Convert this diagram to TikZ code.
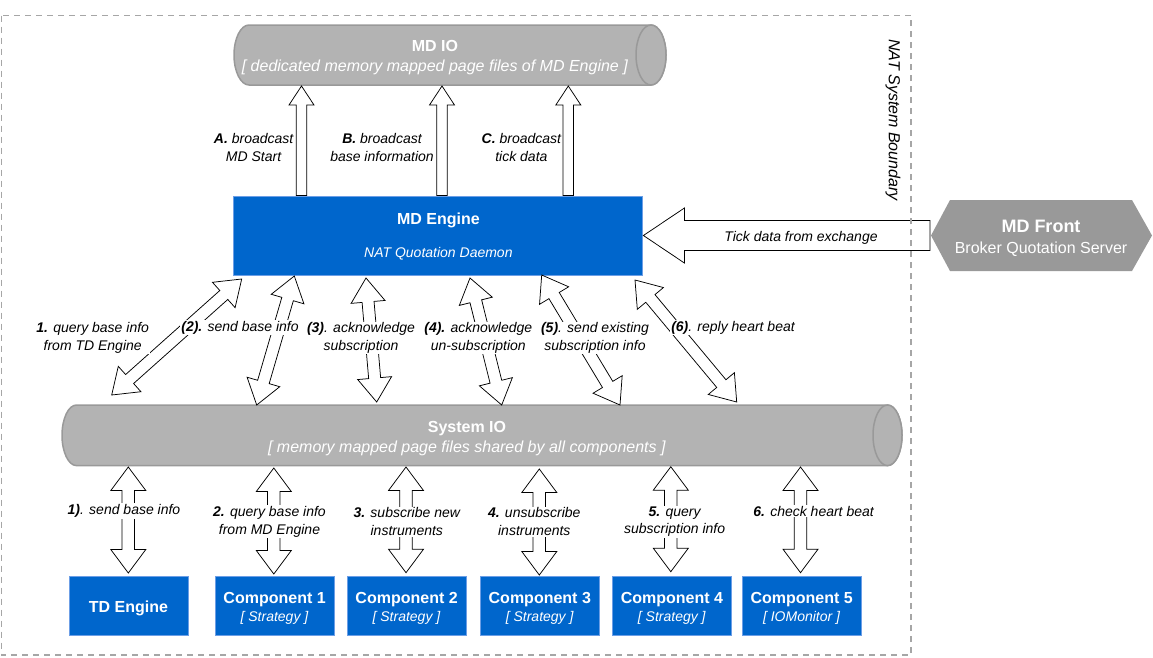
\documentclass[tikz,border=0pt]{standalone}
\usepackage{fontspec}
\setmainfont{Liberation Sans}
\usetikzlibrary{calc}

\tikzset{every picture/.style={line width=0.75pt}}
\tikzset{
  bluebox/.style={draw={rgb, 255:red, 108; green, 158; blue, 230 }, fill={rgb, 255:red, 0; green, 102; blue, 204 }, line width=1pt, inner sep=0pt, minimum width=119, minimum height=59},
  boxtext/.style={text=white, inner sep=0pt, align=center, yshift=-3pt, font=\fontsize{14}{18}\selectfont},
  can/.style={draw={rgb, 255:red, 153; green, 153; blue, 153 }, fill={rgb, 255:red, 179; green, 179; blue, 179 }, line width=1.5pt},
  cantext/.style={text=white, inner sep=0pt, align=center, yshift=-3pt, font=\fontsize{16}{20}\selectfont},
  front/.style={fill={rgb, 255:red, 153; green, 153; blue, 153 }},
  flowlabel/.style={fill=white, inner sep=1pt, align=center, yshift=-2pt, font=\fontsize{14}{17.5}\selectfont\itshape},
  blockarrow/.style={draw=black, fill=white, line width=0.75pt},
  boundary/.style={draw={rgb, 255:red, 166; green, 166; blue, 166 }, line width=1.5pt, dash pattern=on 6pt off 5pt},
}

% block arrow with one head: tail, tip, head length, half head width, half shaft width
\newcommand{\oneway}[5]{%
  \draw[blockarrow] ($(#1)!#5!90:(#2)$)
    -- ($(#2)!#3!(#1)!#5!-90:(#1)$)
    -- ($(#2)!#3!(#1)!#4!-90:(#1)$)
    -- (#2)
    -- ($(#2)!#3!(#1)!#4!90:(#1)$)
    -- ($(#2)!#3!(#1)!#5!90:(#1)$)
    -- ($(#1)!#5!-90:(#2)$)
    -- cycle;}
% block arrow with two heads: tip, tip, head length, half head width, half shaft width
\newcommand{\twoway}[5]{%
  \draw[blockarrow] (#1)
    -- ($(#1)!#3!(#2)!#4!90:(#2)$)
    -- ($(#1)!#3!(#2)!#5!90:(#2)$)
    -- ($(#2)!#3!(#1)!#5!-90:(#1)$)
    -- ($(#2)!#3!(#1)!#4!-90:(#1)$)
    -- (#2)
    -- ($(#2)!#3!(#1)!#4!90:(#1)$)
    -- ($(#2)!#3!(#1)!#5!90:(#1)$)
    -- ($(#1)!#3!(#2)!#5!-90:(#2)$)
    -- ($(#1)!#3!(#2)!#4!-90:(#2)$)
    -- cycle;}

\begin{document}
\begin{tikzpicture}[x=1pt,y=1pt,yscale=-1,xscale=1]
\useasboundingbox (0,0) rectangle (1153,657);

%Shape: Can [MD IO]
\draw[can] (249,25) -- (651,25) arc[start angle=-90, end angle=90, x radius=15, y radius=30] -- (249,85) arc[start angle=90, end angle=270, x radius=15, y radius=30] -- cycle;
\draw[can] (651,55) ellipse [x radius=15, y radius=30];
\node[cantext] (mdio) at (435,55) {\textbf{MD IO}\\\textit{[ dedicated memory mapped page files of MD Engine ]}};

%Shape: Can [System IO]
\draw[can] (76.5,405) -- (887.5,405) arc[start angle=-90, end angle=90, x radius=14.5, y radius=30.3] -- (76.5,465.6) arc[start angle=90, end angle=270, x radius=14.5, y radius=30.3] -- cycle;
\draw[can] (887.5,435.3) ellipse [x radius=14.5, y radius=30.3];
\node[cantext] (sysio) at (467,435.5) {\textbf{System IO}\\\textit{[ memory mapped page files shared by all components ]}};

%Shape: Rectangle [MD Engine]
\node[bluebox, minimum width=409, minimum height=79] (mde) at (438.4,235.5) {};
\node[boxtext, yshift=1.5pt, font=\fontsize{14}{20}\selectfont] (mde-txt) at (mde) {{\fontsize{16}{20}\selectfont\bfseries MD Engine}\\[13pt]\textit{NAT Quotation Daemon}};

%Shape: Hexagon [MD Front]
\fill[front] (931,235.5) -- (950,200) -- (1132,200) -- (1152,235.5) -- (1132,271) -- (950,271) -- cycle;
\node[inner sep=0pt, minimum width=221.5, minimum height=71] (mdf) at (1041,235.5) {};
\node[boxtext, yshift=0.5pt, font=\fontsize{16}{21}\selectfont] (mdf-txt) at (mdf) {{\fontsize{18}{21}\selectfont\bfseries MD Front}\\Broker Quotation Server};

%Shape: Rectangle [components]
\node[bluebox] (tde) at (128.5,605.5) {};
\node[bluebox] (cmp1) at (274.6,605.5) {};
\node[bluebox] (cmp2) at (406.6,605.5) {};
\node[bluebox] (cmp3) at (539.8,605.5) {};
\node[bluebox] (cmp4) at (671.9,605.5) {};
\node[bluebox] (cmp5) at (801.7,605.5) {};
\node[boxtext, yshift=0.5pt, font=\fontsize{16}{19}\selectfont\bfseries] (tde-txt) at (tde) {TD Engine};
\node[boxtext] (cmp1-txt) at (cmp1) {{\fontsize{16}{18}\selectfont\bfseries Component 1}\\\textit{[ Strategy ]}};
\node[boxtext] (cmp2-txt) at (cmp2) {{\fontsize{16}{18}\selectfont\bfseries Component 2}\\\textit{[ Strategy ]}};
\node[boxtext] (cmp3-txt) at (cmp3) {{\fontsize{16}{18}\selectfont\bfseries Component 3}\\\textit{[ Strategy ]}};
\node[boxtext] (cmp4-txt) at (cmp4) {{\fontsize{16}{18}\selectfont\bfseries Component 4}\\\textit{[ Strategy ]}};
\node[boxtext] (cmp5-txt) at (cmp5) {{\fontsize{16}{18}\selectfont\bfseries Component 5}\\\textit{[ IOMonitor ]}};

%Arrow ends
\coordinate (upA-s) at (301.5,195.5);  \coordinate (upA-t) at (301.5,86);
\coordinate (upB-s) at (442,195.5);    \coordinate (upB-t) at (442,86);
\coordinate (upC-s) at (568.3,195.5);  \coordinate (upC-t) at (568.3,86);
\coordinate (dg1-a) at (241.7,279);  \coordinate (dg1-b) at (111.7,395);
\coordinate (dg2-a) at (294.3,276);  \coordinate (dg2-b) at (256.7,405);
\coordinate (dg3-a) at (366,278);    \coordinate (dg3-b) at (376.7,402);
\coordinate (dg4-a) at (470,278);    \coordinate (dg4-b) at (501.7,405);
\coordinate (dg5-a) at (541.7,275);  \coordinate (dg5-b) at (620,405);
\coordinate (dg6-a) at (635,280);    \coordinate (dg6-b) at (736.7,402);
\coordinate (vt0-a) at (128.3,467);  \coordinate (vt0-b) at (128.3,573);
\coordinate (vt1-a) at (273.8,468);  \coordinate (vt1-b) at (273.8,574);
\coordinate (vt2-a) at (406,467);    \coordinate (vt2-b) at (406,572.7);
\coordinate (vt3-a) at (539.3,469);  \coordinate (vt3-b) at (539.3,575);
\coordinate (vt4-a) at (670.8,466.7); \coordinate (vt4-b) at (670.8,571.7);
\coordinate (vt5-a) at (800.5,467);  \coordinate (vt5-b) at (800.5,572.7);

%Block Arrows
\oneway{upA-s}{upA-t}{19pt}{12.5pt}{5.3pt}
\oneway{upB-s}{upB-t}{19pt}{12.5pt}{5.3pt}
\oneway{upC-s}{upC-t}{19pt}{12.5pt}{5.3pt}
\oneway{mdf.west}{mde.east}{41pt}{27.5pt}{15pt}
\twoway{dg1-a}{dg1-b}{24pt}{17pt}{6pt}
\twoway{dg2-a}{dg2-b}{24pt}{17pt}{6pt}
\twoway{dg3-a}{dg3-b}{24pt}{17pt}{6pt}
\twoway{dg4-a}{dg4-b}{24pt}{17pt}{6pt}
\twoway{dg5-a}{dg5-b}{24pt}{17pt}{6pt}
\twoway{dg6-a}{dg6-b}{24pt}{17pt}{6pt}
\twoway{vt0-a}{vt0-b}{23.5pt}{17.5pt}{6.3pt}
\twoway{vt1-a}{vt1-b}{23.5pt}{17.5pt}{6.3pt}
\twoway{vt2-a}{vt2-b}{23.5pt}{17.5pt}{6.3pt}
\twoway{vt3-a}{vt3-b}{23.5pt}{17.5pt}{6.3pt}
\twoway{vt4-a}{vt4-b}{23.5pt}{17.5pt}{6.3pt}
\twoway{vt5-a}{vt5-b}{23.5pt}{17.5pt}{6.3pt}

% Text Node
\node[flowlabel] (lbA) at (253.6,145.5) {\textbf{A.} broadcast\\MD Start};
\node[flowlabel] (lbB) at (382,145.5) {\textbf{B.} broadcast\\base information};
\node[flowlabel] (lbC) at (521.4,145.5) {\textbf{C.} broadcast\\tick data};
\node[font=\fontsize{14}{17}\selectfont\itshape, inner sep=0pt, yshift=-2pt] (lbtick) at (801,236) {Tick data from exchange};
% Text Node
\node[flowlabel] (lb1) at (92.7,336) {\textbf{1.} query base info\\from TD Engine};
\node[flowlabel] (lb2) at (240,325.7) {\textbf{(2).} send base info};
\node[flowlabel] (lb3) at (361,336) {\textbf{(3)}. acknowledge\\subscription};
\node[flowlabel] (lb4) at (478.3,336) {\textbf{(4).} acknowledge\\un-subscription};
\node[flowlabel] (lb5) at (595,336) {\textbf{(5)}. send existing\\subscription info};
\node[flowlabel] (lb6) at (733,325.7) {\textbf{(6)}. reply heart beat};
% Text Node
\node[flowlabel] (lbq1) at (124,509) {\textbf{1)}. send base info};
\node[flowlabel] (lbq2) at (269.5,519.7) {\textbf{2.} query base info\\from MD Engine};
\node[flowlabel] (lbq3) at (406.8,519.7) {\textbf{3.} subscribe new\\instruments};
\node[flowlabel] (lbq4) at (534.3,519.7) {\textbf{4.} unsubscribe\\instruments};
\node[flowlabel] (lbq5) at (674.6,519.7) {\textbf{5.} query\\subscription info};
\node[flowlabel] (lbq6) at (813.6,509) {\textbf{6.} check heart beat};

%Shape: Rectangle [boundary]
\draw[boundary] (1.5,15.5) rectangle (911,655);
\node[rotate=-90, font=\fontsize{16}{19}\selectfont\itshape, inner sep=0pt] (natsys) at (893,120) {NAT System Boundary};
\end{tikzpicture}
\end{document}
